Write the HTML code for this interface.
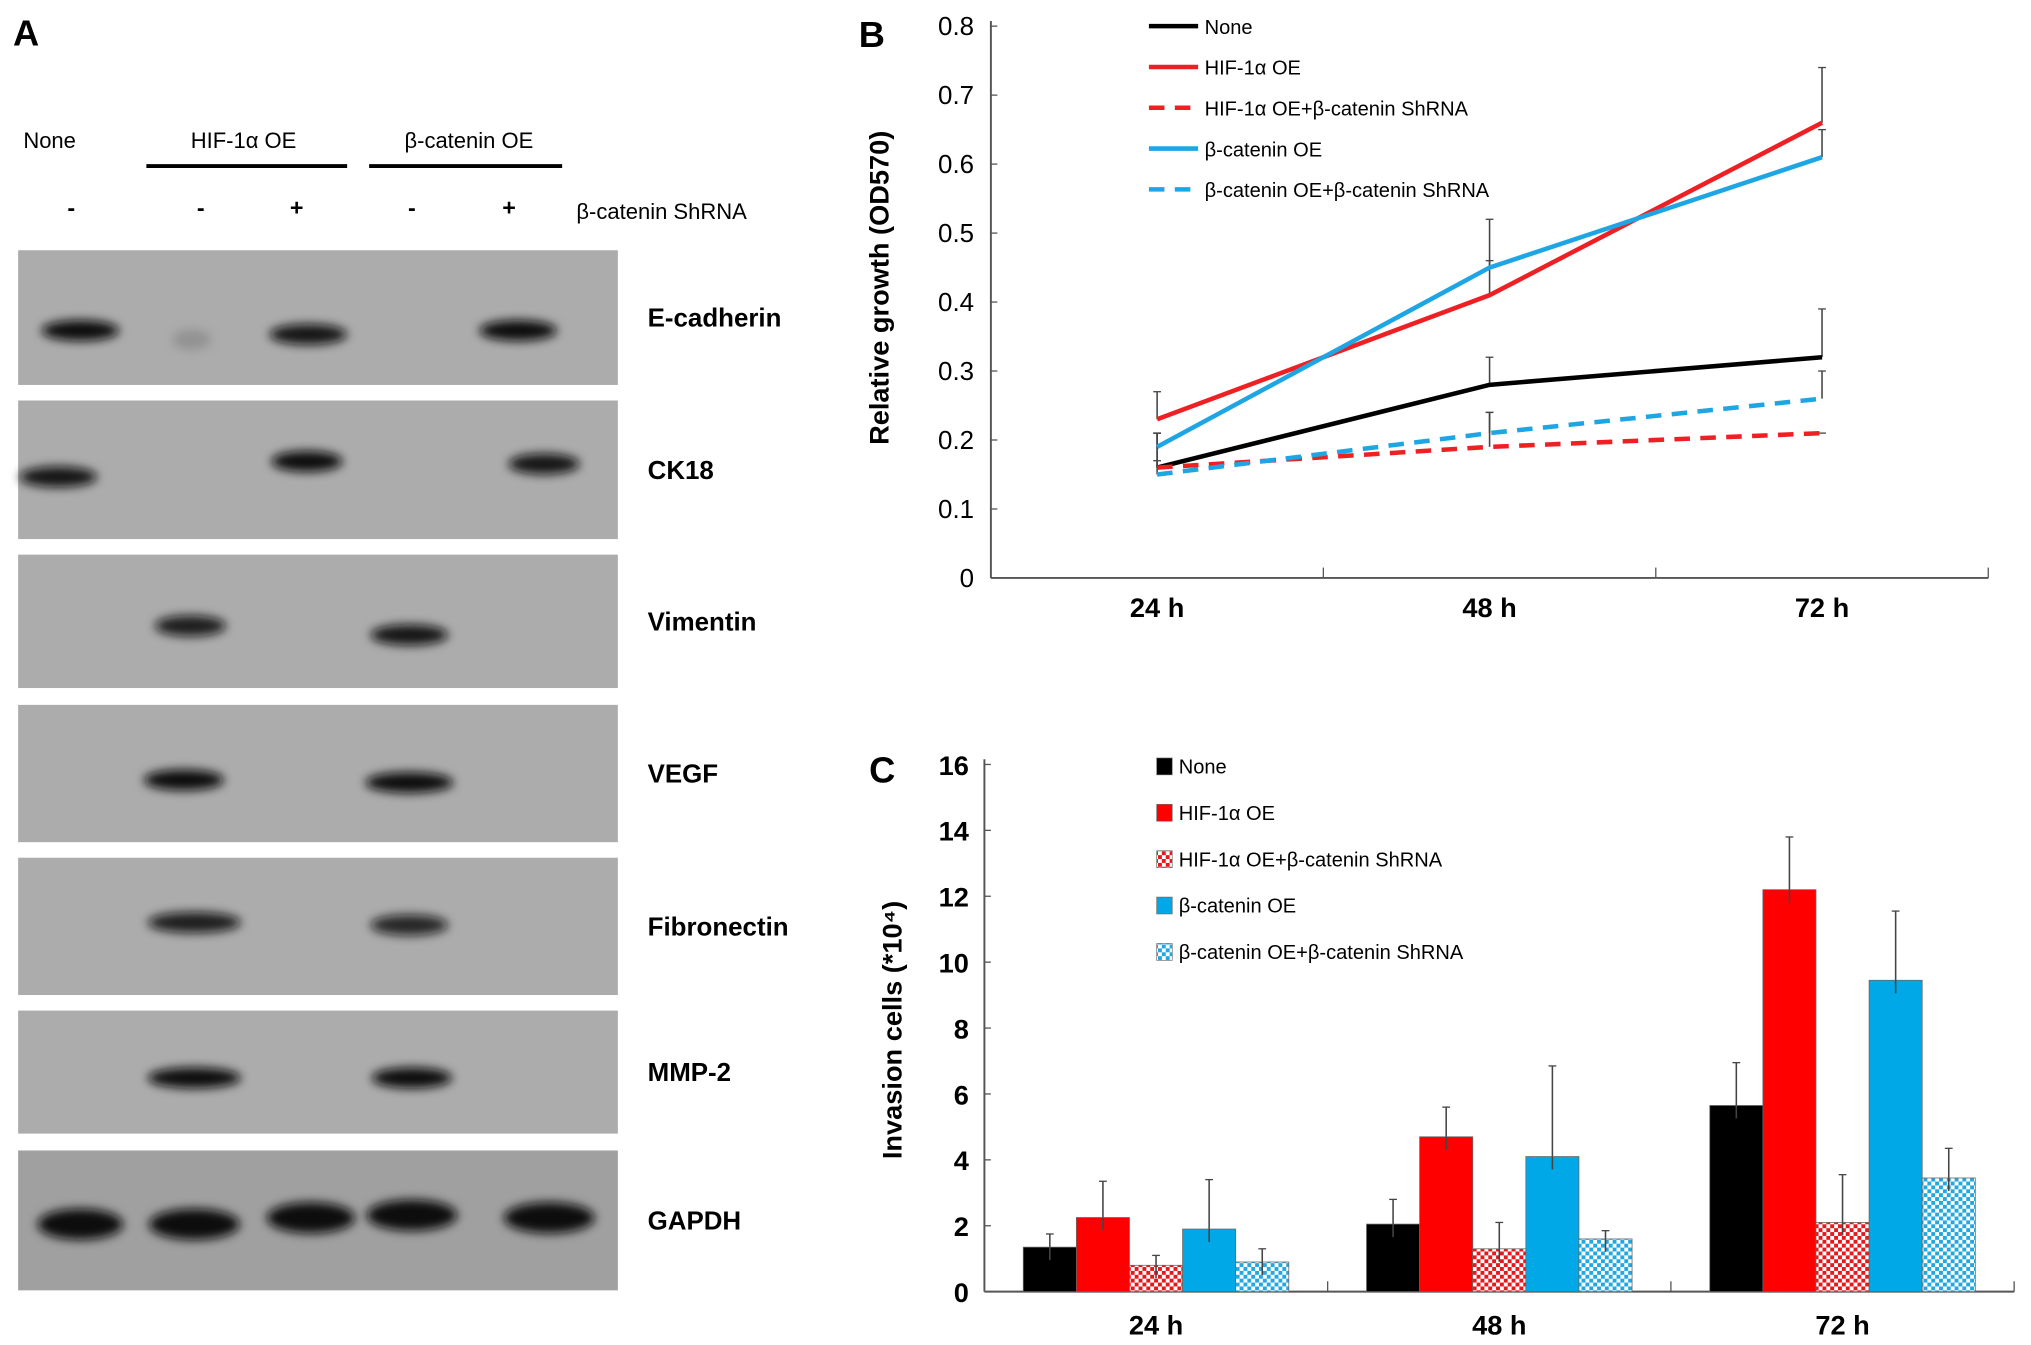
<!DOCTYPE html>
<html><head><meta charset="utf-8"><style>
html,body{margin:0;padding:0;background:#fff}
svg{display:block}
text{font-family:"Liberation Sans",Arial,sans-serif}
</style></head><body>
<svg id="fig" width="2031" height="1345" viewBox="0 0 1568 1038" xmlns="http://www.w3.org/2000/svg">
<defs>
<filter id="blur" x="-50%" y="-50%" width="200%" height="200%"><feGaussianBlur stdDeviation="4"/></filter>
<filter id="blur2"><feGaussianBlur stdDeviation="2"/></filter>
<pattern id="pRed" width="6" height="6" patternUnits="userSpaceOnUse"><rect width="6" height="6" fill="#fff"/><rect width="3" height="3" fill="#e8171b"/><rect x="3" y="3" width="3" height="3" fill="#e8171b"/></pattern>
<pattern id="pBlue" width="6" height="6" patternUnits="userSpaceOnUse"><rect width="6" height="6" fill="#fff"/><rect width="3" height="3" fill="#22a8e0"/><rect x="3" y="3" width="3" height="3" fill="#22a8e0"/></pattern>
</defs>
<g id="panelA">
<text x="10" y="35" font-size="28" font-weight="bold">A</text>
<text x="18" y="114" font-size="17">None</text>
<text x="188" y="114" font-size="17" text-anchor="middle">HIF-1α OE</text>
<line x1="113" y1="128" x2="268" y2="128" stroke="#000" stroke-width="3"/>
<text x="362" y="114" font-size="17" text-anchor="middle">β-catenin OE</text>
<line x1="285" y1="128" x2="434" y2="128" stroke="#000" stroke-width="3"/>
<g font-size="18" font-weight="bold" text-anchor="middle">
<text x="55" y="166">-</text><text x="155" y="166">-</text><text x="229" y="166">+</text><text x="318" y="166">-</text><text x="393" y="166">+</text></g>
<text x="445" y="169" font-size="17">β-catenin ShRNA</text>
<g id="blots"></g>
</g>
<g id="panelB"></g>
<g id="panelC"></g>
</svg>
<script>
const NS="http://www.w3.org/2000/svg";
function el(tag,attrs,parent,txt){const e=document.createElementNS(NS,tag);for(const k in attrs)e.setAttribute(k,attrs[k]);if(txt!==undefined)e.textContent=txt;parent.appendChild(e);return e;}

// ---- Panel A blots ----
const blotNames=["E-cadherin","CK18","Vimentin","VEGF","Fibronectin","MMP-2","GAPDH"];
const blotTops=[193,309,428,544,662,780,888];
const blotBottoms=[297,416,531,650,768,875,996];
const bands=[
 [[62,255,60,1],[148,262,30,0.15],[238,258,60,0.95],[400,255,60,1]],
 [[45,368,60,0.95],[237,356,55,1],[420,358,55,0.95]],
 [[147,483,55,0.9],[316,490,60,0.95]],
 [[142,602,62,1],[316,604,68,1]],
 [[150,712,72,0.9],[316,714,60,0.85]],
 [[150,832,72,1],[318,832,62,1]],
 [[62,945,66,1],[150,945,70,1],[240,940,68,1],[318,938,70,1],[424,940,70,1]]
];
const blotG=document.getElementById('blots');
blotNames.forEach((n,i)=>{
 const g=el('g',{},blotG);
 
 
 el('rect',{x:14,y:blotTops[i],width:463,height:blotBottoms[i]-blotTops[i],fill:i==6?'#a0a0a0':'#acacac'},g);
 bands[i].forEach(b=>{
  el('ellipse',{cx:b[0],cy:b[1],rx:b[2]/2,ry:i==6?12:8,fill:'#111','fill-opacity':b[3],filter:'url(#blur)'},g);
 });
 const t=el('text',{x:500,y:(blotTops[i]+blotBottoms[i])/2+7,'font-size':20,'font-weight':'bold'},g,n);
 
 
});

// ---- Panel B ----
const bCategories=["24 h","48 h","72 h"];
const bYTicks=[0,0.1,0.2,0.3,0.4,0.5,0.6,0.7,0.8];
const bSeriesNames=["None","HIF-1α OE","HIF-1α OE+β-catenin ShRNA","β-catenin OE","β-catenin OE+β-catenin ShRNA"];
const bNone=[0.16,0.28,0.32];
const bHif=[0.23,0.41,0.66];
const bHifSh=[0.16,0.19,0.21];
const bBcat=[0.19,0.45,0.61];
const bBcatSh=[0.15,0.21,0.26];
const bErrNone=[0.05,0.04,0.07];
const bErrHif=[0.04,0.05,0.08];
const bErrHifSh=[0.01,0.05,0.0];
const bErrBcat=[0.02,0.07,0.04];
const bErrBcatSh=[0.06,0.03,0.04];
(function(){
 const G=document.getElementById('panelB');
 const x0=765,x1=1535,y0=446,y1=20,ymax=0.8;
 const ys=v=>y0-(v/ymax)*(y0-y1);
 const bw=(x1-x0)/bCategories.length;
 const xs=i=>x0+(i+0.5)*bw;
 el('text',{x:663,y:36,'font-size':28,'font-weight':'bold'},G,'B');
 el('line',{x1:x0,y1:y1-4,x2:x0,y2:y0,stroke:'#555','stroke-width':1.5},G);
 el('line',{x1:x0,y1:y0,x2:x1,y2:y0,stroke:'#555','stroke-width':1.5},G);
 bYTicks.forEach(v=>{
  el('line',{x1:x0,y1:ys(v),x2:x0+5,y2:ys(v),stroke:'#555'},G);
  const t=el('text',{x:752,y:ys(v)+7,'font-size':20,'text-anchor':'end'},G,String(v));
   
 });
 for(let i=1;i<=bCategories.length;i++) el('line',{x1:x0+i*bw,y1:y0,x2:x0+i*bw,y2:y0-8,stroke:'#555'},G);
 bCategories.forEach((c,i)=>{const t=el('text',{x:xs(i),y:476,'font-size':21,'font-weight':'bold','text-anchor':'middle'},G,c);
   });
 const yt=el('text',{x:0,y:0,'font-size':21,'font-weight':'bold','text-anchor':'middle',transform:'translate(686,222) rotate(-90)'},G,'Relative growth (OD570)');
  
 const series=[bNone,bHif,bHifSh,bBcat,bBcatSh];
 const errs=[bErrNone,bErrHif,bErrHifSh,bErrBcat,bErrBcatSh];
 const cols=['#000','#ee2024','#ee2024','#1ea6e4','#1ea6e4'];
 const dash=[null,null,'12,8',null,'12,8'];
 series.forEach((s,k)=>{
  s.forEach((v,i)=>{
   const e=el('line',{x1:xs(i),y1:ys(v),x2:xs(i),y2:ys(v+errs[k][i]),stroke:'#444','stroke-width':1.2},G);
    
   el('line',{x1:xs(i)-3,y1:ys(v+errs[k][i]),x2:xs(i)+3,y2:ys(v+errs[k][i]),stroke:'#444'},G);
  });
 });
 series.forEach((s,k)=>{
  const p=el('polyline',{points:s.map((v,i)=>xs(i)+','+ys(v)).join(' '),fill:'none',stroke:cols[k],'stroke-width':3.5},G);
  if(dash[k])p.setAttribute('stroke-dasharray',dash[k]);
   
  const ly=20+k*31.5;
  const l=el('line',{x1:887,y1:ly,x2:925,y2:ly,stroke:cols[k],'stroke-width':3.5},G);
  if(dash[k])l.setAttribute('stroke-dasharray','12,8');
  const t=el('text',{x:930,y:ly+6,'font-size':15.5},G,bSeriesNames[k]);
   
 });
})();

// ---- Panel C ----
const cCategories=["24 h","48 h","72 h"];
const cYTicks=[0,2,4,6,8,10,12,14,16];
const cNone=[1.35,2.05,5.65];
const cHif=[2.25,4.7,12.2];
const cHifSh=[0.8,1.3,2.1];
const cBcat=[1.9,4.1,9.45];
const cBcatSh=[0.9,1.6,3.45];
const cErrNone=[0.4,0.75,1.3];
const cErrHif=[1.1,0.9,1.6];
const cErrHifSh=[0.3,0.8,1.45];
const cErrBcat=[1.5,2.75,2.1];
const cErrBcatSh=[0.4,0.25,0.9];
(function(){
 const G=document.getElementById('panelC');
 const x0=760,x1=1555,y0=997,y1=590,ymax=16;
 const ys=v=>y0-(v/ymax)*(y0-y1);
 const gw=(x1-x0)/cCategories.length;
 const barW=41;
 el('text',{x:671,y:604,'font-size':28,'font-weight':'bold'},G,'C');
 el('line',{x1:x0,y1:y1-4,x2:x0,y2:y0,stroke:'#555','stroke-width':1.5},G);
 el('line',{x1:x0,y1:y0,x2:x1,y2:y0,stroke:'#555','stroke-width':1.5},G);
 cYTicks.forEach(v=>{
  el('line',{x1:x0,y1:ys(v),x2:x0+5,y2:ys(v),stroke:'#555'},G);
  const t=el('text',{x:748,y:ys(v)+8,'font-size':21,'font-weight':'bold','text-anchor':'end'},G,String(v));
   
 });
 for(let i=1;i<=cCategories.length;i++) el('line',{x1:x0+i*gw,y1:y0,x2:x0+i*gw,y2:y0-8,stroke:'#555'},G);
 cCategories.forEach((c,i)=>{const t=el('text',{x:x0+(i+0.5)*gw,y:1030,'font-size':21,'font-weight':'bold','text-anchor':'middle'},G,c);
   });
 const yt=el('text',{x:0,y:0,'font-size':21,'font-weight':'bold','text-anchor':'middle',transform:'translate(696,795) rotate(-90)'},G,'Invasion cells (*10⁴)');
  
 const series=[cNone,cHif,cHifSh,cBcat,cBcatSh];
 const errs=[cErrNone,cErrHif,cErrHifSh,cErrBcat,cErrBcatSh];
 const fills=['#000','#f00','url(#pRed)','#00a8e8','url(#pBlue)'];
 const names=["None","HIF-1α OE","HIF-1α OE+β-catenin ShRNA","β-catenin OE","β-catenin OE+β-catenin ShRNA"];
 series.forEach((s,k)=>{
  s.forEach((v,i)=>{
   const cx=x0+(i+0.5)*gw;
   const bx=cx-2.5*barW+k*barW;
   const top=v+errs[k][i];
   el('line',{x1:bx+barW/2,y1:ys(v),x2:bx+barW/2,y2:ys(top),stroke:'#444','stroke-width':1.2},G);
   el('line',{x1:bx+barW/2-3,y1:ys(top),x2:bx+barW/2+3,y2:ys(top),stroke:'#444'},G);
   const r=el('rect',{x:bx,y:ys(v),width:barW,height:ys(0)-ys(v),fill:fills[k],stroke:'#666','stroke-width':0.6},G);
    
   el('line',{x1:bx+barW/2,y1:ys(v),x2:bx+barW/2,y2:ys(v)+Math.min(10,ys(0)-ys(v)),stroke:'#444','stroke-width':1.2},G);
  });
  const ly=592+k*35.8;
  el('rect',{x:893,y:ly-7,width:12,height:13,fill:fills[k],stroke:'#666','stroke-width':0.5},G);
  const t=el('text',{x:910,y:ly+5,'font-size':15.5},G,names[k]);
   
 });
})();
</script>
</body></html>
